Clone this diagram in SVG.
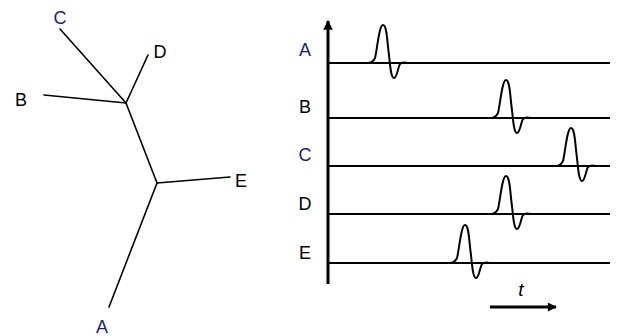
<svg xmlns="http://www.w3.org/2000/svg" width="619" height="336" viewBox="0 0 619 336">
<style>
text{font-family:"Liberation Sans",Arial,sans-serif;font-size:18px;fill:#000;text-anchor:middle}
.blue{fill:#1c1c7a}
.tree{stroke:#000;stroke-width:1.6;fill:none;stroke-linecap:round}
.trace{stroke:#000;stroke-width:2;fill:none}
.wave{stroke:#000;stroke-width:2;fill:none;stroke-linejoin:round}
</style>
<defs>
<path id="wv" d="M0,0 C3,0 5,-1 7,-5 C9,-12 11,-38 15,-38 C19,-38 19,-22 21,-8 C22,2 23,15 26,15 C29,15 30,4 32,1 C34,-1 36,-1 40,0"/>
<marker id="ah" viewBox="0 0 10 10" refX="9" refY="5" markerWidth="3.2" markerHeight="3.2" orient="auto" markerUnits="strokeWidth">
<path d="M0,0 L10,5 L0,10 Z" fill="#000"/>
</marker>
<marker id="ah2" viewBox="0 0 10 10" refX="9" refY="5" markerWidth="3.6" markerHeight="3" orient="auto" markerUnits="strokeWidth">
<path d="M0,0 L10,5 L0,10 Z" fill="#000"/>
</marker>
</defs>
<g id="tree">
<g id="connectors">
<line class="tree" x1="60" y1="29" x2="126" y2="103"/>
<line class="tree" x1="148" y1="55" x2="126" y2="103"/>
<line class="tree" x1="44" y1="95" x2="126" y2="103"/>
<line class="tree" x1="126" y1="103" x2="157" y2="183"/>
<line class="tree" x1="157" y1="183" x2="230" y2="177"/>
<line class="tree" x1="157" y1="183" x2="109" y2="307"/>
</g>
<g id="leafC"><text class="blue" x="60" y="24">C</text></g>
<g id="leafD"><text x="160" y="58">D</text></g>
<g id="leafB"><text x="21" y="106">B</text></g>
<g id="leafE"><text x="241" y="187">E</text></g>
<g id="leafA"><text class="blue" x="102" y="333">A</text></g>
</g>
<g id="traces">
<line x1="328" y1="284" x2="328" y2="21" stroke="#000" stroke-width="3" marker-end="url(#ah)"/>
<line class="trace" x1="328" y1="63" x2="610" y2="63"/>
<line class="trace" x1="328" y1="118" x2="610" y2="118"/>
<line class="trace" x1="328" y1="166" x2="610" y2="166"/>
<line class="trace" x1="328" y1="214" x2="610" y2="214"/>
<line class="trace" x1="328" y1="263" x2="610" y2="263"/>
<use href="#wv" class="wave" x="368" y="63"/>
<use href="#wv" class="wave" x="491" y="118"/>
<use href="#wv" class="wave" x="556" y="166"/>
<use href="#wv" class="wave" x="491" y="214"/>
<use href="#wv" class="wave" x="450" y="263"/>
<text class="blue" x="305" y="56">A</text>
<text x="305" y="113">B</text>
<text class="blue" x="305" y="161">C</text>
<text x="305" y="210">D</text>
<text x="305" y="259">E</text>
<line x1="490" y1="307" x2="556" y2="307" stroke="#000" stroke-width="3" marker-end="url(#ah2)"/>
<text x="521" y="296" style="font-style:italic;font-size:19px">t</text>
</g>
</svg>
